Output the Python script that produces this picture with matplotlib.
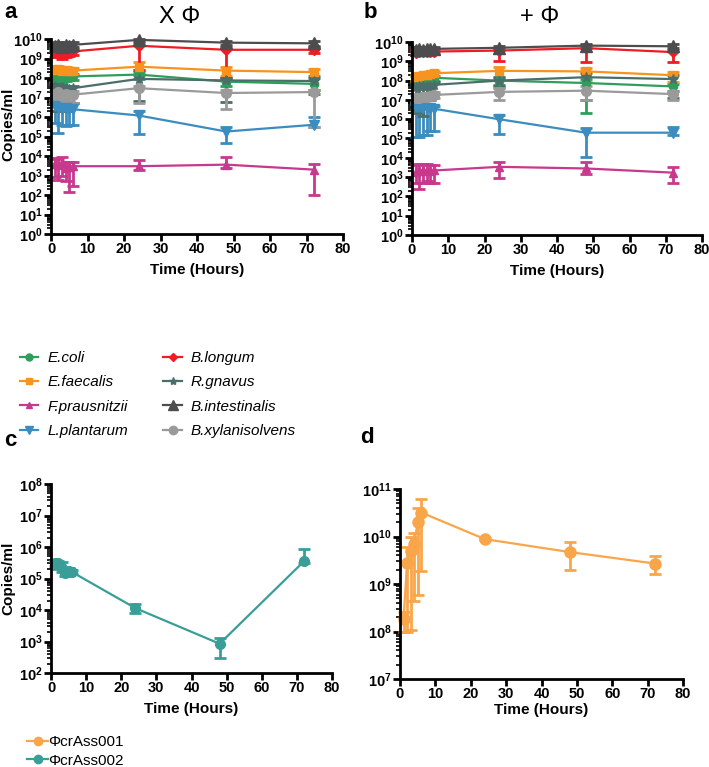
import numpy as np
import matplotlib
matplotlib.use('Agg')
import matplotlib.pyplot as plt
from matplotlib.ticker import LogLocator, FuncFormatter, NullFormatter
from matplotlib.lines import Line2D

plt.rcParams['font.family'] = ['Liberation Sans', 'DejaVu Sans']
plt.rcParams['mathtext.fontset'] = 'custom'
plt.rcParams['mathtext.rm'] = 'Liberation Sans:bold'
plt.rcParams['mathtext.bf'] = 'Liberation Sans:bold'
plt.rcParams['mathtext.default'] = 'bf'

# 时间点
times = [1, 2, 3, 4, 5, 6, 24, 48, 72]

species = ['E.coli', 'E.faecalis', 'F.prausnitzii', 'L.plantarum',
           'B.longum', 'R.gnavus', 'B.intestinalis', 'B.xylanisolvens']
colors = ['#2e9e5b', '#f7931e', '#c8388c', '#3b8dbf',
          '#ee1c25', '#4b6e6b', '#4d4d4f', '#9a9a9a']
markers = ['o', 's', '^', 'v', 'D', '*', '^', 'o']
msizes = [6, 6, 6, 7, 5, 7, 8, 7]

# 图 a: 无噬菌体 (均值, 下限, 上限)
mean_a = {
    'E.coli': [1.0e8, 1.1e8, 1.0e8, 1.1e8, 1.2e8, 1.2e8, 1.5e8, 6.5e7, 5e7],
    'E.faecalis': [2.5e8, 2.8e8, 2.3e8, 2.6e8, 2.2e8, 2.4e8, 3.8e8, 2.4e8, 2.0e8],
    'F.prausnitzii': [4e3, 3.5e3, 4.5e3, 2.5e3, 2.8e3, 3e3, 3e3, 3.6e3, 2e3],
    'L.plantarum': [3.5e6, 3e6, 2.5e6, 2.8e6, 2.6e6, 2.5e6, 1.2e6, 1.8e5, 4e5],
    'B.longum': [2e9, 1.8e9, 1.6e9, 1.8e9, 2e9, 2.3e9, 4.5e9, 2.8e9, 2.8e9],
    'R.gnavus': [4e7, 3e7, 3.5e7, 3e7, 2.8e7, 3e7, 9e7, 7.5e7, 7e7],
    'B.intestinalis': [4.5e9, 5e9, 4e9, 5e9, 4.5e9, 5e9, 9e9, 6.5e9, 6e9],
    'B.xylanisolvens': [1.5e7, 2e7, 1.2e7, 1.5e7, 1.3e7, 1.4e7, 3e7, 1.7e7, 1.9e7],
}
lo_a = {
    'E.coli': [6e7, 7e7, 6e7, 7e7, 8e7, 8e7, 9e7, 4e7, 2.5e7],
    'E.faecalis': [1.5e8, 1.7e8, 1.4e8, 1.6e8, 1.4e8, 1.5e8, 2.5e8, 1.2e8, 2.5e7],
    'F.prausnitzii': [8e2, 6e2, 1e3, 5e2, 1.5e2, 3e2, 2e3, 2.5e3, 1e2],
    'L.plantarum': [5e5, 1.5e5, 4e5, 3.5e5, 4e5, 4e5, 1.3e5, 4.5e4, 3e5],
    'B.longum': [1.2e9, 1.2e9, 1e9, 1.2e9, 1.3e9, 1.5e9, 2.5e8, 1e8, 2e9],
    'R.gnavus': [8e6, 2e6, 5e6, 2e6, 6e6, 5e6, 7e6, 6e6, 1.5e7],
    'B.intestinalis': [3.5e9, 3.5e9, 3e9, 3.5e9, 3.5e9, 4e9, 8e9, 5e9, 4.5e9],
    'B.xylanisolvens': [5e6, 8e6, 4e6, 6e6, 4e6, 5e6, 5e6, 2.5e6, 3e5],
}
hi_a = {
    'E.coli': [1.5e8, 1.6e8, 1.5e8, 1.6e8, 1.6e8, 1.6e8, 2e8, 1e8, 1.2e8],
    'E.faecalis': [3.5e8, 4e8, 3.2e8, 3.6e8, 3e8, 3.3e8, 6.5e8, 3.8e8, 3e8],
    'F.prausnitzii': [8e3, 7e3, 9e3, 5e3, 5e3, 5e3, 6e3, 9e3, 4e3],
    'L.plantarum': [7e6, 6e6, 5e6, 6e6, 5e6, 5e6, 2e6, 3e5, 1e6],
    'B.longum': [3e9, 2.5e9, 2.4e9, 2.5e9, 2.8e9, 3e9, 6e9, 4e9, 4e9],
    'R.gnavus': [5e7, 5e7, 4.5e7, 4e7, 4e7, 4e7, 1.4e8, 1e8, 1e8],
    'B.intestinalis': [6e9, 7e9, 5e9, 7e9, 6e9, 7e9, 1e10, 8e9, 7.5e9],
    'B.xylanisolvens': [2.5e7, 3e7, 2e7, 2.5e7, 2e7, 2.2e7, 4e7, 2.5e7, 2.5e7],
}

# 图 b: 加噬菌体
mean_b = {
    'E.coli': [1.4e8, 1.4e8, 1.3e8, 1.4e8, 1.3e8, 1.4e8, 1e8, 7.5e7, 5e7],
    'E.faecalis': [1.5e8, 1.8e8, 2e8, 2e8, 2.2e8, 2.4e8, 3.2e8, 3e8, 1.9e8],
    'F.prausnitzii': [1.8e3, 2e3, 2.2e3, 2e3, 2.1e3, 2.2e3, 3.4e3, 2.8e3, 1.7e3],
    'L.plantarum': [4.4e6, 4.2e6, 4e6, 4e6, 3.8e6, 3.5e6, 1e6, 2e5, 2e5],
    'B.longum': [2.8e9, 3e9, 3e9, 3.1e9, 3e9, 3.2e9, 3.6e9, 4.8e9, 3e9],
    'R.gnavus': [4.5e7, 5e7, 5.5e7, 5e7, 5.5e7, 6e7, 1e8, 1.5e8, 1.2e8],
    'B.intestinalis': [4e9, 4.2e9, 4e9, 4.3e9, 4.2e9, 4.4e9, 5e9, 6.5e9, 6e9],
    'B.xylanisolvens': [1.2e7, 1.3e7, 1.4e7, 1.5e7, 1.6e7, 1.8e7, 2.6e7, 3e7, 2e7],
}
lo_b = {
    'E.coli': [1e8, 1e8, 9e7, 1e8, 9e7, 1e8, 6e7, 2e6, 3e7],
    'E.faecalis': [1e8, 1.2e8, 1.4e8, 1.4e8, 1.5e8, 1.6e8, 4e7, 8e7, 8e7],
    'F.prausnitzii': [5e2, 2.5e2, 5e2, 6e2, 5e2, 5e2, 8.5e2, 1.5e3, 5e2],
    'L.plantarum': [1.2e5, 1.2e5, 1.5e5, 1.5e5, 2.5e5, 2.5e5, 1.8e5, 1.1e4, 1.5e5],
    'B.longum': [2e9, 2e9, 2e9, 2.2e9, 2.2e9, 2.5e9, 1.1e9, 9e8, 9e8],
    'R.gnavus': [3e6, 2e6, 1.5e6, 5e6, 1e7, 2e7, 5e7, 1e7, 1.2e7],
    'B.intestinalis': [3e9, 3.2e9, 3e9, 3.3e9, 3.2e9, 3.4e9, 4e9, 5e9, 5e9],
    'B.xylanisolvens': [8e6, 8e6, 9e6, 1e7, 1e7, 1.2e7, 1e7, 1e7, 1e7],
}
hi_b = {
    'E.coli': [1.8e8, 1.8e8, 1.7e8, 1.8e8, 1.7e8, 1.8e8, 1.4e8, 1.2e8, 7e7],
    'E.faecalis': [2e8, 2.4e8, 2.6e8, 2.6e8, 2.9e8, 3e8, 5e8, 4.5e8, 2.8e8],
    'F.prausnitzii': [4e3, 5e3, 5e3, 5e3, 4e3, 4e3, 6e3, 6e3, 3.4e3],
    'L.plantarum': [6e6, 6e6, 5.5e6, 5.5e6, 5e6, 5e6, 1.6e6, 3.5e5, 4e5],
    'B.longum': [4e9, 4e9, 4e9, 4.2e9, 4e9, 4.2e9, 4.5e9, 7e9, 4e9],
    'R.gnavus': [7e7, 7.5e7, 8e7, 7.5e7, 8e7, 8.5e7, 1.5e8, 2.5e8, 2e8],
    'B.intestinalis': [5.5e9, 5.8e9, 5.5e9, 5.8e9, 5.6e9, 5.8e9, 6.5e9, 8e9, 7.5e9],
    'B.xylanisolvens': [1.8e7, 2e7, 2e7, 2.2e7, 2.4e7, 2.6e7, 4e7, 5e7, 3e7],
}

# 图 c: ΦcrAss002
crass002 = [3e5, 3e5, 2.2e5, 1.5e5, 1.7e5, 1.6e5, 1.15e4, 8.5e2, 3.5e5]
crass002_lo = [2.5e5, 2e5, 1.6e5, 1.2e5, 1.4e5, 1.4e5, 8e3, 3e2, 3e5]
crass002_hi = [3.6e5, 3.6e5, 3.3e5, 2.2e5, 2.1e5, 1.9e5, 1.6e4, 1.3e3, 8.7e5]

# 图 d: ΦcrAss001
crass001 = [1.8e8, 2.8e9, 5e9, 7e9, 2e10, 3.2e10, 8.8e9, 4.7e9, 2.7e9]
crass001_lo = [1e8, 1e8, 1.1e8, 4.4e8, 6e8, 1.9e9, 8.5e9, 1.95e9, 1.65e9]
crass001_hi = [2.6e8, 6e9, 1e10, 1.2e10, 4e10, 6.2e10, 9.1e9, 7.5e9, 3.8e9]

col_001 = '#f9a64a'
col_002 = '#3a9e98'

W, H = 709, 767
fig = plt.figure(figsize=(W / 100, H / 100), dpi=100)


def axes_px(l, r, t, b):
    return fig.add_axes([l / W, 1 - b / H, (r - l) / W, (b - t) / H])


def pow_fmt(v, pos):
    return r'$10^{%d}$' % int(round(np.log10(v)))


def style(ax, ymin, ymax, xpad, ylab_y=None):
    ax.set_yscale('log')
    ax.set_xlim(0, 80)
    ax.set_ylim(ymin, ymax)
    ax.set_xticks(range(0, 81, 10))
    ax.yaxis.set_major_locator(LogLocator(base=10, numticks=20))
    ax.yaxis.set_minor_locator(LogLocator(base=10, subs=np.arange(2, 10), numticks=20))
    ax.yaxis.set_major_formatter(FuncFormatter(pow_fmt))
    ax.yaxis.set_minor_formatter(NullFormatter())
    for s in ['top', 'right']:
        ax.spines[s].set_visible(False)
    for s in ['left', 'bottom']:
        ax.spines[s].set_linewidth(2)
    ax.tick_params(axis='both', which='major', width=2, length=5, labelsize=10.5, pad=1)
    ax.tick_params(axis='y', which='minor', width=1.2, length=3)
    for lab in ax.get_xticklabels():
        lab.set_fontweight('bold')
    ax.set_xlabel('Time (Hours)', fontsize=11, fontweight='bold', labelpad=xpad)
    if ylab_y is not None:
        ax.set_ylabel('Copies/ml', fontsize=11, fontweight='bold')
        # 标签放在图像左边缘附近
        x0 = ax.get_position().x0 * W
        w = ax.get_position().width * W
        ax.yaxis.set_label_coords((15 - x0) / w, ylab_y)


def plot_series(ax, m, lo, hi, color, marker, ms):
    m = np.array(m)
    yerr = [m - np.array(lo), np.array(hi) - m]
    ax.errorbar(times, m, yerr=yerr, color=color, marker=marker, ms=ms,
                lw=1.6, elinewidth=2, capsize=4, capthick=2, clip_on=False)


ax_a = axes_px(51, 343, 39, 234)
ax_b = axes_px(412, 702, 42, 235)
ax_c = axes_px(51, 332, 484, 673)
ax_d = axes_px(400, 683, 489, 679)

for ax, mean, lo, hi in [(ax_a, mean_a, lo_a, hi_a), (ax_b, mean_b, lo_b, hi_b)]:
    for sp, c, mk, ms in zip(species, colors, markers, msizes):
        plot_series(ax, mean[sp], lo[sp], hi[sp], c, mk, ms)
    style(ax, 1, 1e10, 4.5, ylab_y=0.56 if ax is ax_a else None)

plot_series(ax_c, crass002, crass002_lo, crass002_hi, col_002, 'o', 7)
style(ax_c, 1e2, 1e8, 4.5, ylab_y=0.5)
plot_series(ax_d, crass001, crass001_lo, crass001_hi, col_001, 'o', 8)
style(ax_d, 1e7, 1e11, 1)

fig.text(180 / W, 1 - 17 / H, 'X Φ', fontsize=17, ha='center', va='center')
fig.text(540 / W, 1 - 17 / H, '+ Φ', fontsize=17, ha='center', va='center')
for x, y, s in [(4, 12, 'a'), (364, 12, 'b'), (4, 440, 'c'), (360, 437, 'd')]:
    fig.text(x / W, 1 - y / H, s, fontsize=16, fontweight='bold', ha='left', va='center')

# 图例
handles = [Line2D([], [], color=c, marker=mk, ms=ms - 1, lw=1.6)
           for c, mk, ms in zip(colors, markers, msizes)]
fig.legend(handles, species, ncol=2, loc='upper left',
           bbox_to_anchor=(20 / W, 1 - 351 / H), frameon=False, borderpad=0,
           borderaxespad=0, prop={'style': 'italic', 'size': 11}, handlelength=1.2,
           columnspacing=2.3, labelspacing=0.68, handletextpad=0.6)

h2 = [Line2D([], [], color=col_001, marker='o', ms=6, lw=1.6),
      Line2D([], [], color=col_002, marker='o', ms=6, lw=1.6)]
fig.legend(h2, ['ΦcrAss001', 'ΦcrAss002'], loc='upper left',
           bbox_to_anchor=(27 / W, 1 - 735 / H), frameon=False, borderpad=0,
           borderaxespad=0, prop={'size': 11}, handlelength=1.4,
           labelspacing=0.3, handletextpad=0.0)

fig.savefig('out.png', dpi=100)
